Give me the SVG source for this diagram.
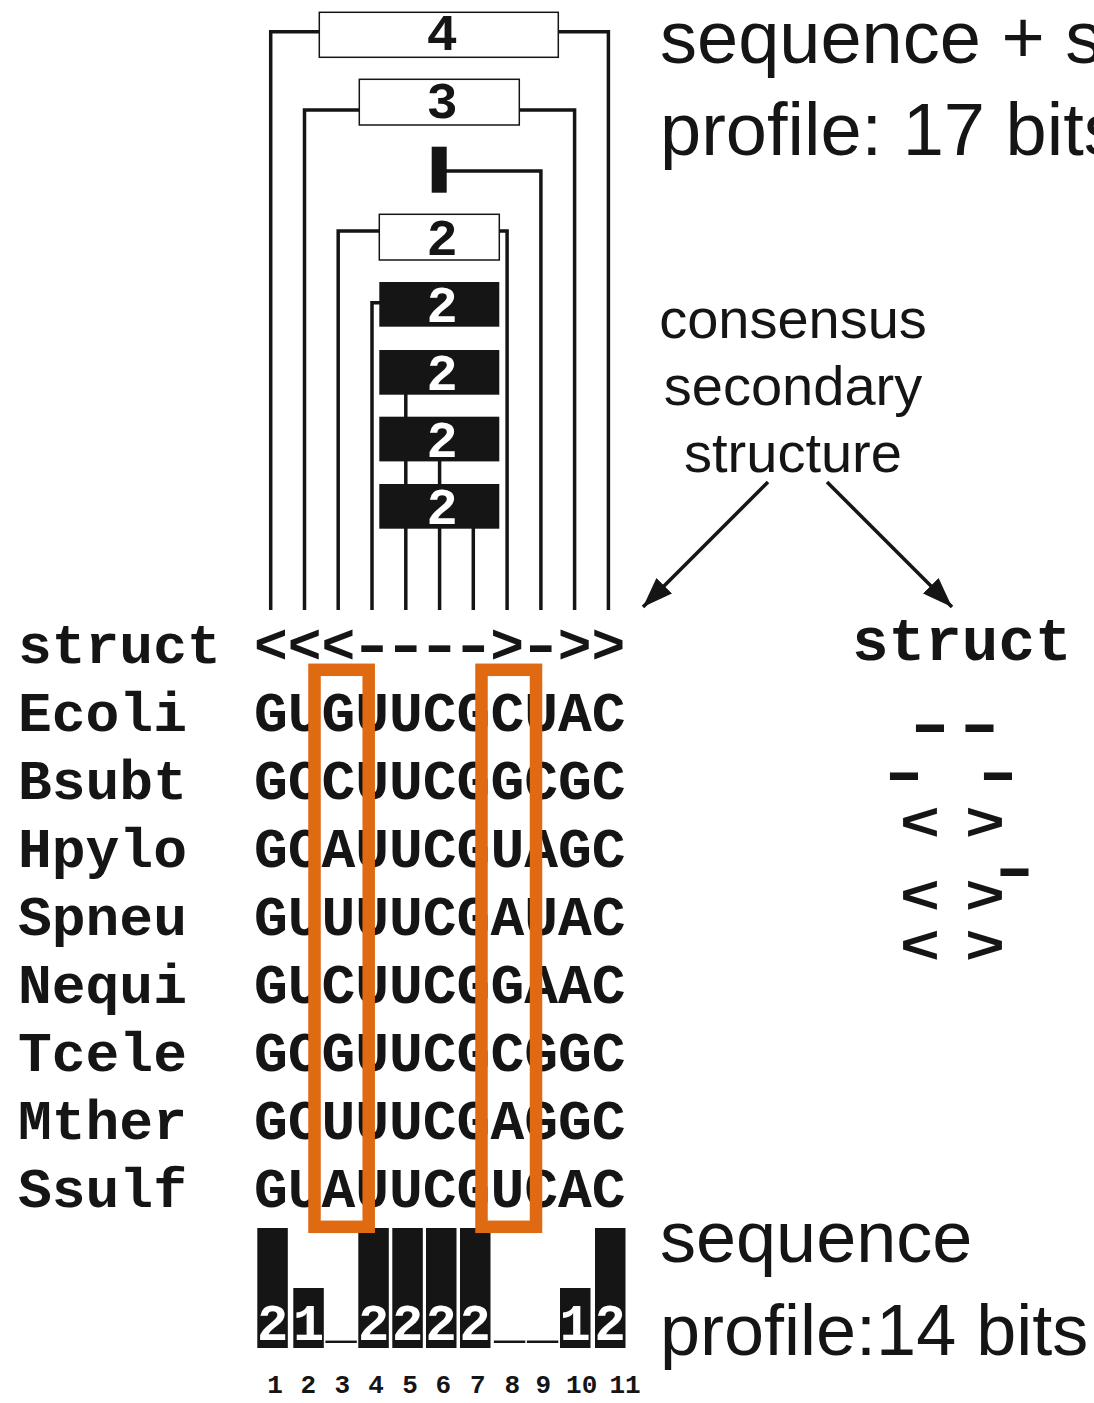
<svg xmlns="http://www.w3.org/2000/svg" width="1094" height="1403" viewBox="0 0 1094 1403">
<defs>
<style>
.mono{font-family:"Liberation Mono","Courier New",monospace;font-weight:bold;fill:#151515}
.sans{font-family:"Liberation Sans",Arial,sans-serif;fill:#151515}
.ln{fill:none;stroke:#151515;stroke-width:3.5}
.wbox{fill:#fff;stroke:#151515;stroke-width:1.5}
.bbox{fill:#151515}
.dg{font-family:"Liberation Mono","Courier New",monospace;font-weight:bold;font-size:52px;text-anchor:middle}
.orange{fill:none;stroke:#DF6A12;stroke-width:12.5}
.bar{fill:#151515}
</style>
<marker id="ah" markerUnits="userSpaceOnUse" markerWidth="34" markerHeight="26" refX="30" refY="11" orient="auto">
<path d="M0,0 L30,11 L0,22 Z" fill="#151515"/>
</marker>
</defs>
<rect width="1094" height="1403" fill="#fff"/>

<g id="connectors">
<path class="ln" d="M270.7,610 V31.7 H320"/>
<path class="ln" d="M558,31.7 H608.4 V610"/>
<path class="ln" d="M304.5,610 V110 H360"/>
<path class="ln" d="M519,110 H574.6 V610"/>
<path class="ln" d="M446,171 H540.9 V610"/>
<path class="ln" d="M338.2,610 V231 H380"/>
<path class="ln" d="M499,231 H507.1 V610"/>
<path class="ln" d="M372,610 V302.7 H380"/>
<path class="ln" d="M405.8,394 V610"/>
<path class="ln" d="M439.6,461 V610"/>
<path class="ln" d="M473.3,528 V610"/>
<line class="ln" x1="768" y1="482" x2="643" y2="607" marker-end="url(#ah)"/>
<line class="ln" x1="827" y1="482" x2="952" y2="607" marker-end="url(#ah)"/>
</g>

<g id="node-4">
<rect class="wbox" x="319.3" y="12.3" width="239" height="45"/>
<text class="dg" x="442" y="50" fill="#151515">4</text>
</g>
<g id="node-3">
<rect class="wbox" x="359.3" y="79.3" width="160" height="45.7"/>
<text class="dg" x="442" y="118" fill="#151515">3</text>
</g>
<g id="node-bar">
<rect class="bbox" x="431.7" y="146.7" width="15" height="46"/>
</g>
<g id="node-2w">
<rect class="wbox" x="379.3" y="214.3" width="120" height="45.7"/>
<text class="dg" x="442" y="255" fill="#151515">2</text>
</g>
<g id="node-2b1">
<rect class="bbox" x="379.3" y="282" width="120" height="44.7"/>
<text class="dg" x="442" y="322" fill="#fff">2</text>
</g>
<g id="node-2b2">
<rect class="bbox" x="379.3" y="350" width="120" height="44.7"/>
<text class="dg" x="442" y="390" fill="#fff">2</text>
</g>
<g id="node-2b3">
<rect class="bbox" x="379.3" y="416.7" width="120" height="44.7"/>
<text class="dg" x="442" y="457" fill="#fff">2</text>
</g>
<g id="node-2b4">
<rect class="bbox" x="379.3" y="484" width="120" height="44.7"/>
<text class="dg" x="442" y="524" fill="#fff">2</text>
</g>

<g id="alignment" class="mono" font-size="56.3">
<text x="18" y="663">struct</text>
<text x="18" y="731">Ecoli</text>
<text x="18" y="799">Bsubt</text>
<text x="18" y="867">Hpylo</text>
<text x="18" y="935">Spneu</text>
<text x="18" y="1003">Nequi</text>
<text x="18" y="1071">Tcele</text>
<text x="18" y="1139">Mther</text>
<text x="18" y="1207">Ssulf</text>
<text x="253.9" y="663">&lt;&lt;&lt;</text>
<g text-anchor="middle">
<text transform="translate(372.1,663) scale(1.35,1)">-</text>
<text transform="translate(405.9,663) scale(1.35,1)">-</text>
<text transform="translate(439.6,663) scale(1.35,1)">-</text>
<text transform="translate(473.4,663) scale(1.35,1)">-</text>
<text transform="translate(540.9,663) scale(1.35,1)">-</text>
</g>
<text x="490.3" y="663">&gt;</text>
<text x="557.8" y="663">&gt;&gt;</text>
<text x="253.9" y="731">GUGUUCGCUAC</text>
<text x="253.9" y="799">GCCUUCGGCGC</text>
<text x="253.9" y="867">GCAUUCGUAGC</text>
<text x="253.9" y="935">GUUUUCGAUAC</text>
<text x="253.9" y="1003">GUCUUCGGAAC</text>
<text x="253.9" y="1071">GCGUUCGCGGC</text>
<text x="253.9" y="1139">GCUUUCGAGGC</text>
<text x="253.9" y="1207">GUAUUCGUCAC</text>
</g>

<g id="profile">
<rect class="bar" x="257.3" y="1228" width="30.5" height="120"/>
<rect class="bar" x="293.3" y="1288" width="30.5" height="60"/>
<rect class="bar" x="358.3" y="1228" width="30.5" height="120"/>
<rect class="bar" x="392.3" y="1228" width="30.5" height="120"/>
<rect class="bar" x="426" y="1228" width="30.5" height="120"/>
<rect class="bar" x="460" y="1228" width="30.5" height="120"/>
<rect class="bar" x="560" y="1288" width="30.5" height="60"/>
<rect class="bar" x="595" y="1228" width="30.5" height="120"/>
<g class="dg" fill="#fff">
<text x="272.5" y="1340">2</text>
<text x="308.5" y="1340">1</text>
<text x="373.5" y="1340">2</text>
<text x="407.5" y="1340">2</text>
<text x="441.2" y="1340">2</text>
<text x="475.2" y="1340">2</text>
<text x="575.2" y="1340">1</text>
<text x="610.2" y="1340">2</text>
</g>
<g class="dg" fill="#151515">
<text x="341" y="1337">_</text>
<text x="509.6" y="1337">_</text>
<text x="542.5" y="1337">_</text>
</g>
<g class="mono" font-size="26" text-anchor="middle">
<text x="275" y="1393">1</text>
<text x="308.3" y="1393">2</text>
<text x="342.3" y="1393">3</text>
<text x="376" y="1393">4</text>
<text x="410" y="1393">5</text>
<text x="443.3" y="1393">6</text>
<text x="477.7" y="1393">7</text>
<text x="512.3" y="1393">8</text>
<text x="543.3" y="1393">9</text>
<text x="581.7" y="1393">10</text>
<text x="625" y="1393">11</text>
</g>
</g>

<g id="orange-boxes">
<rect class="orange" x="314.5" y="669.8" width="54.2" height="557"/>
<rect class="orange" x="481.5" y="669.8" width="54.5" height="557"/>
</g>

<g id="labels">
<text class="sans" x="660" y="63" font-size="74">sequence + s</text>
<text class="sans" x="660" y="155" font-size="74">profile: 17 bits</text>
<text class="sans" x="793" y="338" font-size="56" text-anchor="middle">consensus</text>
<text class="sans" x="793" y="405" font-size="56" text-anchor="middle">secondary</text>
<text class="sans" x="793" y="472" font-size="56" text-anchor="middle">structure</text>
<text class="sans" x="660" y="1262" font-size="72">sequence</text>
<text class="sans" x="660" y="1355" font-size="72">profile:14 bits</text>
</g>

<g id="right-struct" class="mono">
<text x="852" y="660" font-size="61">struct</text>
<g font-size="62" text-anchor="middle">
<text transform="translate(930,745) scale(1.6,1)">-</text>
<text transform="translate(979.5,745) scale(1.6,1)">-</text>
<text transform="translate(904,793) scale(1.6,1)">-</text>
<text transform="translate(998,793) scale(1.6,1)">-</text>
<text transform="translate(1014.5,889) scale(1.6,1)">-</text>
</g>
<g font-size="54" text-anchor="middle">
<text transform="translate(920,840) scale(1.25,1)">&lt;</text>
<text transform="translate(985,840) scale(1.25,1)">&gt;</text>
<text transform="translate(920,913) scale(1.25,1)">&lt;</text>
<text transform="translate(985,913) scale(1.25,1)">&gt;</text>
<text transform="translate(920,963) scale(1.25,1)">&lt;</text>
<text transform="translate(985,963) scale(1.25,1)">&gt;</text>
</g>
</g>
</svg>
